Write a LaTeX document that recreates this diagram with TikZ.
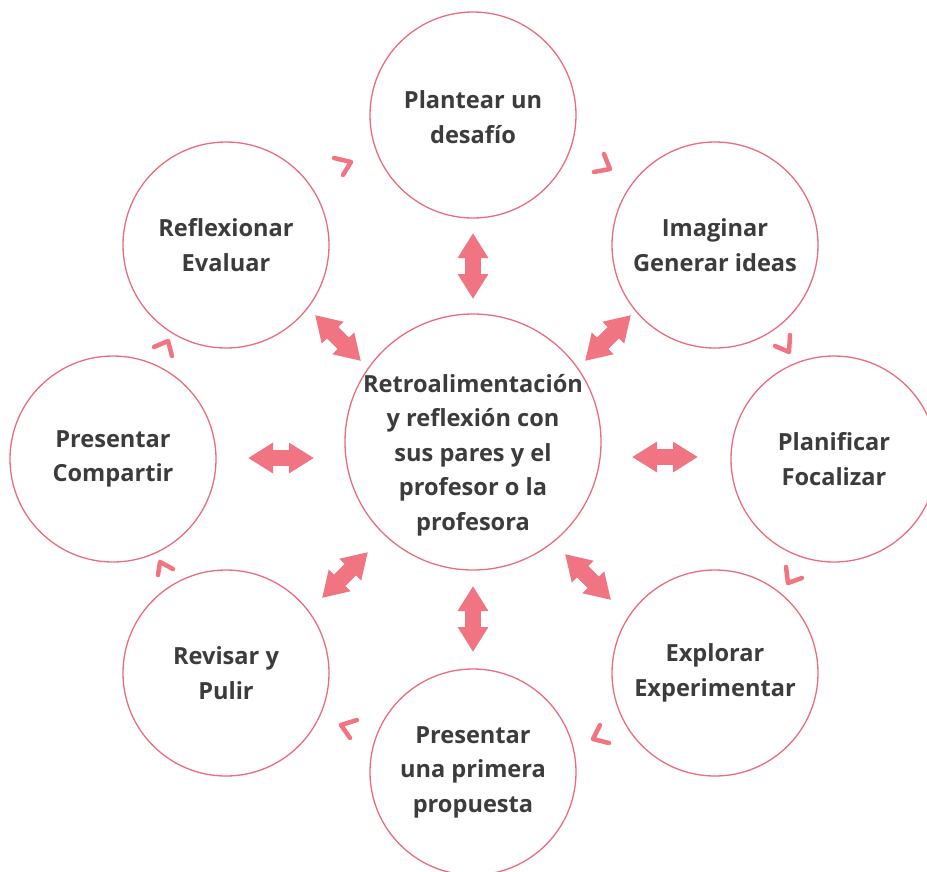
\documentclass[tikz,border=0pt]{standalone}
\usepackage{fontspec}
\setmainfont{Open Sans}
\usetikzlibrary{arrows.meta}
\definecolor{ring}{HTML}{EA6C7E}
\definecolor{arr}{HTML}{F07482}
\definecolor{txt}{HTML}{3C3C3C}
\tikzset{
  stage/.style={circle, draw=ring, line width=1.3pt, minimum size=206pt, inner sep=0pt},
  hub/.style={circle, draw=ring, line width=1.3pt, minimum size=256pt, inner sep=0pt},
  lbl/.style={align=center, text=txt, font=\fontsize{23.6}{34.5}\selectfont\bfseries},
  dbl/.style={draw=arr, line width=16pt, {Triangle[width=29pt,length=25pt]}-{Triangle[width=29pt,length=25pt]}, color=arr},
  chev/.style={draw=arr, line width=4.5pt, line cap=round, line join=round}
}
\begin{document}
\begin{tikzpicture}[x=1pt,y=-1pt]
\useasboundingbox (0,0) rectangle (927,871);
% circles
\node[hub] (c) at (473,442) {};
\node[lbl] (ct) at (473,455) {Retroalimentación\\y reflexión con\\sus pares y el\\profesor o la\\profesora};
\node[stage] (n1) at (473,115) {};
\node[lbl] (t1) at (473,117) {Plantear un\\desafío};
\node[stage] (n2) at (715,245) {};
\node[lbl] (t2) at (715,245) {Imaginar\\Generar ideas};
\node[stage] (n3) at (834,459) {};
\node[lbl] (t3) at (834,459) {Planificar\\Focalizar};
\node[stage] (n4) at (715,673) {};
\node[lbl] (t4) at (715,673) {Explorar\\Experimentar};
\node[stage] (n5) at (473,772) {};
\node[lbl] (t5) at (473,772) {Presentar\\una primera\\propuesta};
\node[stage] (n6) at (226,673) {};
\node[lbl] (t6) at (226,673) {Revisar y\\Pulir};
\node[stage] (n7) at (113,459) {};
\node[lbl] (t7) at (113,459) {Presentar\\Compartir};
\node[stage] (n8) at (226,245) {};
\node[lbl] (t8) at (226,245) {Reflexionar\\Evaluar};
% double arrows
\coordinate (a1a) at (473,233); \coordinate (a1b) at (473,299);
\coordinate (a2a) at (631,315); \coordinate (a2b) at (585,361);
\coordinate (a3a) at (698,457); \coordinate (a3b) at (632,457);
\coordinate (a4a) at (611,600); \coordinate (a4b) at (565,554);
\coordinate (a5a) at (473,652); \coordinate (a5b) at (473,586);
\coordinate (a6a) at (322,598); \coordinate (a6b) at (368,552);
\coordinate (a7a) at (248,458); \coordinate (a7b) at (314,458);
\coordinate (a8a) at (315,315); \coordinate (a8b) at (361,361);
\foreach \i in {1,...,8} {\draw[dbl] (a\i a) -- (a\i b);}
% chevrons
\draw[chev] (334,158) -- (351,162) -- (343,175);
\draw[chev] (604,154) -- (610,169) -- (594,172);
\draw[chev] (790,335) -- (789,352) -- (775,346);
\draw[chev] (786,567) -- (788,583) -- (802,578);
\draw[chev] (600,725) -- (593,739) -- (609,743);
\draw[chev] (357,720) -- (341,725) -- (350,738);
\draw[chev] (158,575) -- (160,562) -- (173,569);
\draw[chev] (154,347) -- (168,341) -- (172,356);
\end{tikzpicture}
\end{document}
